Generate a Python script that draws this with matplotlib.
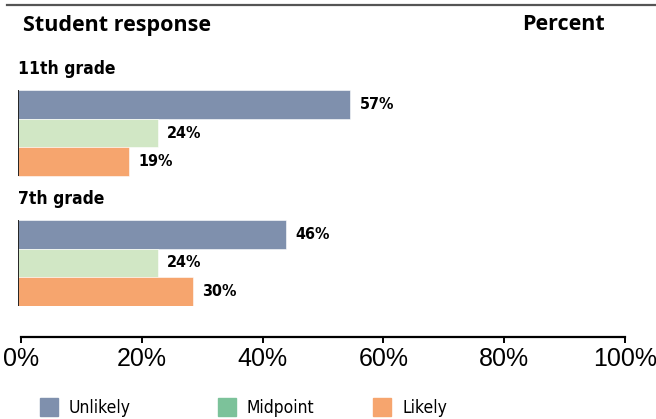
import matplotlib
matplotlib.use("Agg")
import matplotlib.pyplot as plt
from matplotlib.lines import Line2D
from matplotlib.patches import Rectangle

# データ
groups = ["11th grade", "7th grade"]
responses = ["Unlikely", "Midpoint", "Likely"]
values = {
    "11th grade": [57, 24, 19],
    "7th grade": [46, 24, 30],
}
ticks = [0, 20, 40, 60, 80, 100]
tick_labels = ["0%", "20%", "40%", "60%", "80%", "100%"]

bar_colors = ["#7f90ad", "#d1e7c5", "#f6a56e"]
legend_colors = ["#7f90ad", "#7cc29a", "#f6a56e"]

W, H = 656, 419
cond = dict(family="DejaVu Sans", fontstretch="condensed")


def fx(px):
    return px / W


def fy(py):
    return 1 - py / H


fig = plt.figure(figsize=(W / 100, H / 100), dpi=100)

# 上の線
fig.add_artist(Line2D([fx(7), 1], [fy(5), fy(5)], color="#555555", lw=1.6))

# 見出し
fig.text(fx(23), fy(25), "Student response", fontsize=15.5, fontweight="bold",
         family="Open Sans", va="center", ha="left")
fig.text(fx(605), fy(25), "Percent", fontsize=15.5, fontweight="bold",
         family="Open Sans", va="center", ha="right")

# 棒グラフ
ax = fig.add_axes([fx(18), fy(306), fx(583), (306 - 90) / H])
group_start = [0, 4.53]
for g, start in zip(groups, group_start):
    for i, (v, c) in enumerate(zip(values[g], bar_colors)):
        y = start + i + 0.5
        ax.barh(y, v, height=1.0, color=c, edgecolor="white", linewidth=0.4)
        ax.text(v + 1.6, y, f"{v}%", fontsize=11.5, fontweight="bold",
                va="center", ha="left", **cond)
    ax.vlines(0, start, start + len(responses), color="black", lw=1.2)
    ax.text(0, start - 0.72, g, fontsize=12.5, fontweight="bold",
            va="center", ha="left", **cond)
ax.set_xlim(0, 100)
ax.set_ylim(group_start[-1] + len(responses), 0)
ax.axis("off")

# x軸
ax2 = fig.add_axes([fx(21), fy(337), fx(604), 0.0001])
ax2.set_xlim(0, 100)
ax2.set_xticks(ticks)
ax2.set_xticklabels(tick_labels, fontsize=18, family="Liberation Sans")
ax2.set_yticks([])
for s in ["top", "left", "right"]:
    ax2.spines[s].set_visible(False)
ax2.spines["bottom"].set_linewidth(1.6)
ax2.tick_params(axis="x", length=4.5, width=1.4, pad=3)
ax2.patch.set_visible(False)

# 凡例
legend_x = [40, 218, 373]
for x, lab, c in zip(legend_x, responses, legend_colors):
    fig.add_artist(Rectangle((fx(x), fy(416)), fx(18), 18 / H, color=c))
    fig.text(fx(x + 29), fy(408), lab, fontsize=12.5, va="center", ha="left", **cond)

fig.savefig("out.png", dpi=100)
